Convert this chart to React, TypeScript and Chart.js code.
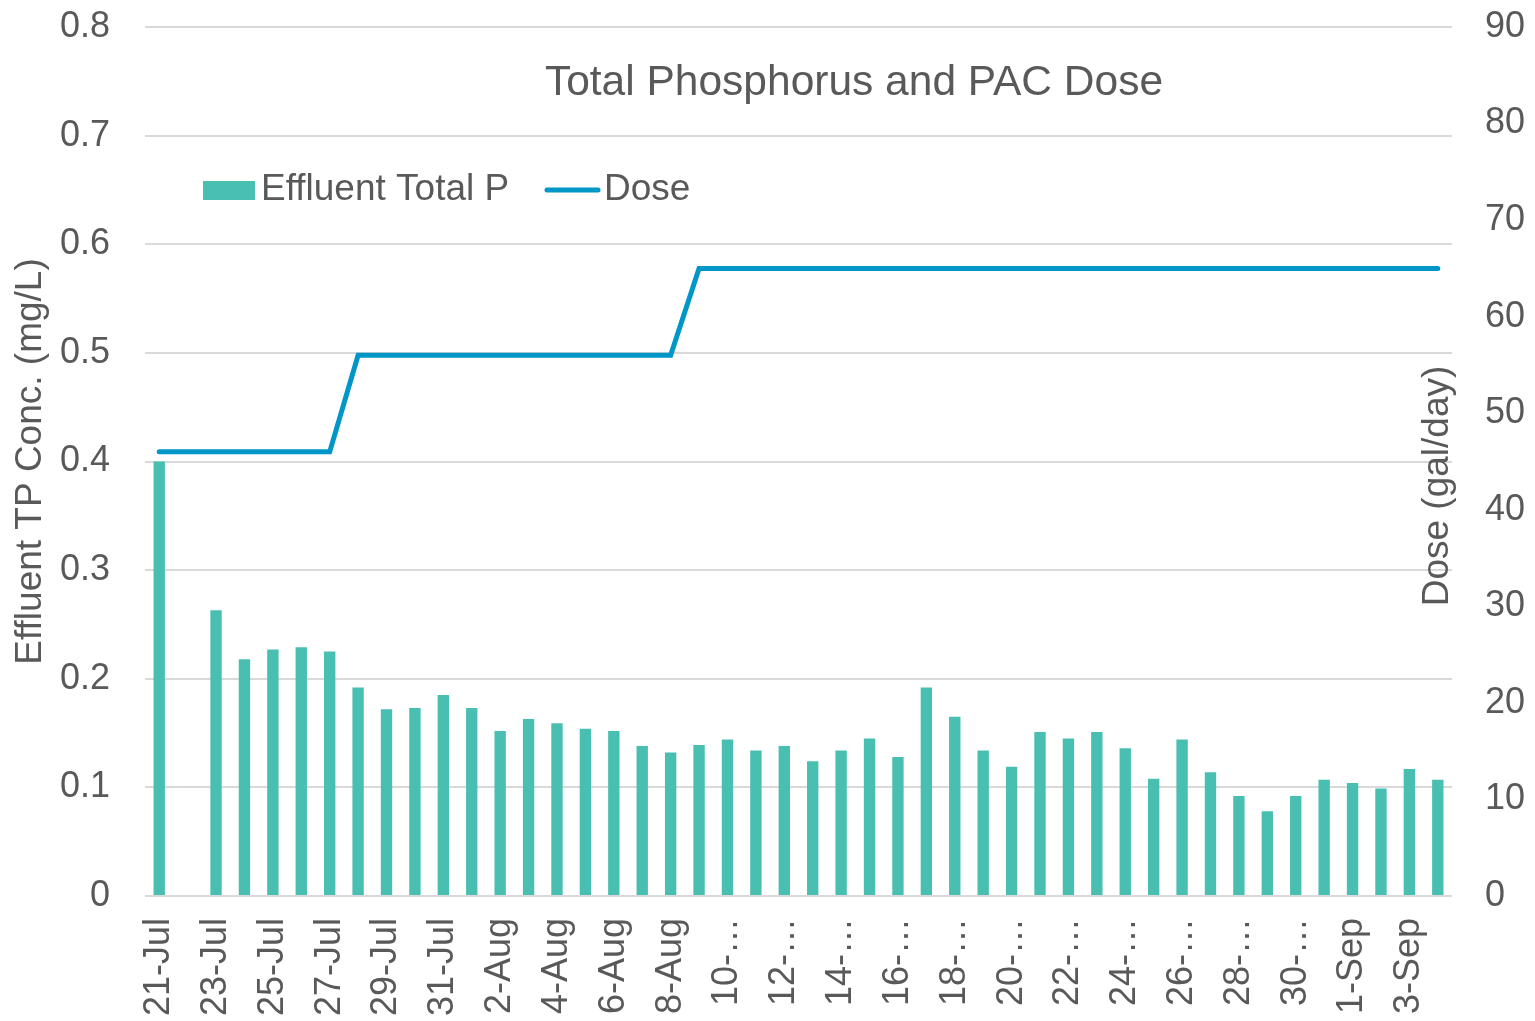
import React, { useEffect, useRef } from "react";
import { Chart, registerables } from "chart.js";

Chart.register(...registerables);

const categories = [
  "21-Jul", "22-Jul", "23-Jul", "24-Jul", "25-Jul", "26-Jul", "27-Jul", "28-Jul", "29-Jul", "30-Jul", "31-Jul",
  "1-Aug", "2-Aug", "3-Aug", "4-Aug", "5-Aug", "6-Aug", "7-Aug", "8-Aug", "9-Aug", "10-Aug",
  "11-Aug", "12-Aug", "13-Aug", "14-Aug", "15-Aug", "16-Aug", "17-Aug", "18-Aug", "19-Aug", "20-Aug",
  "21-Aug", "22-Aug", "23-Aug", "24-Aug", "25-Aug", "26-Aug", "27-Aug", "28-Aug", "29-Aug", "30-Aug", "31-Aug",
  "1-Sep", "2-Sep", "3-Sep", "4-Sep",
];

const xTickLabels = [
  "21-Jul", "", "23-Jul", "", "25-Jul", "", "27-Jul", "", "29-Jul", "", "31-Jul",
  "", "2-Aug", "", "4-Aug", "", "6-Aug", "", "8-Aug", "", "10-…",
  "", "12-…", "", "14-…", "", "16-…", "", "18-…", "", "20-…",
  "", "22-…", "", "24-…", "", "26-…", "", "28-…", "", "30-…", "",
  "1-Sep", "", "3-Sep", "",
];

const effluentTP = [
  0.400, null, 0.263, 0.218, 0.227, 0.229, 0.225, 0.192, 0.172, 0.173, 0.185,
  0.173, 0.152, 0.163, 0.159, 0.154, 0.152, 0.138, 0.132, 0.139, 0.144,
  0.134, 0.138, 0.124, 0.134, 0.145, 0.128, 0.192, 0.165, 0.134, 0.119,
  0.151, 0.145, 0.151, 0.136, 0.108, 0.144, 0.114, 0.092, 0.078, 0.092, 0.107,
  0.104, 0.099, 0.117, 0.107,
];

const dose = [
  46, 46, 46, 46, 46, 46, 46, 56, 56, 56, 56,
  56, 56, 56, 56, 56, 56, 56, 56, 65, 65,
  65, 65, 65, 65, 65, 65, 65, 65, 65, 65,
  65, 65, 65, 65, 65, 65, 65, 65, 65, 65, 65,
  65, 65, 65, 65,
];

const leftTicksMax = 0.8;
const leftTicksStep = 0.1;
const rightTicksMax = 90;
const rightTicksStep = 10;

const titleText = "Total Phosphorus and PAC Dose";
const leftAxisTitle = "Effluent TP Conc. (mg/L)";
const rightAxisTitle = "Dose (gal/day)";
const barLabel = "Effluent Total P";
const lineLabel = "Dose";

const FONT = "'Liberation Sans', Arial, Helvetica, sans-serif";
const TEXT = "#595959";
const GRID = "#D9D9D9";
const BAR = "#49BFB1";
const LINE = "#0096C8";

const overlayPlugin = {
  id: "overlayText",
  afterDraw(chart: any) {
    const { ctx, chartArea } = chart;
    ctx.save();
    // Title
    ctx.fillStyle = TEXT;
    ctx.font = `42.5px ${FONT}`;
    ctx.textAlign = "center";
    ctx.textBaseline = "alphabetic";
    ctx.fillText(titleText, 854, 95);

    // Legend
    ctx.fillStyle = BAR;
    ctx.fillRect(203, 181, 52, 19);
    ctx.fillStyle = TEXT;
    ctx.font = `37px ${FONT}`;
    ctx.textAlign = "left";
    ctx.textBaseline = "middle";
    ctx.fillText(barLabel, 261, 190);

    ctx.strokeStyle = LINE;
    ctx.lineWidth = 5;
    ctx.lineCap = "round";
    ctx.beginPath();
    ctx.moveTo(547, 190);
    ctx.lineTo(598, 190);
    ctx.stroke();
    ctx.fillText(lineLabel, 604, 190);

    // Right axis title (reads bottom to top)
    ctx.translate(chartArea.right - 14, 486);
    ctx.rotate(-Math.PI / 2);
    ctx.textAlign = "center";
    ctx.textBaseline = "middle";
    ctx.fillStyle = TEXT;
    ctx.font = `37px ${FONT}`;
    ctx.fillText(rightAxisTitle, 0, 0);
    ctx.restore();
  },
};

export default function App() {
  const canvasRef = useRef<HTMLCanvasElement | null>(null);

  useEffect(() => {
    document.body.style.margin = "0";
    const canvas = canvasRef.current;
    if (!canvas) return;
    const chart = new Chart(canvas, {
      type: "bar",
      data: {
        labels: categories,
        datasets: [
          {
            type: "line",
            label: lineLabel,
            data: dose,
            yAxisID: "y1",
            borderColor: LINE,
            backgroundColor: LINE,
            borderWidth: 5,
            pointRadius: 0,
            tension: 0,
            borderCapStyle: "round",
            order: 0,
          } as any,
          {
            type: "bar",
            label: barLabel,
            data: effluentTP,
            yAxisID: "y",
            backgroundColor: BAR,
            categoryPercentage: 0.8,
            barPercentage: 0.5,
            order: 1,
          } as any,
        ],
      },
      options: {
        responsive: false,
        animation: false,
        maintainAspectRatio: false,
        layout: { padding: { top: 27, left: 0, right: 0, bottom: 0 } },
        plugins: {
          legend: { display: false },
          title: { display: false },
          tooltip: { enabled: false },
        },
        scales: {
          x: {
            offset: true,
            grid: { display: false, drawTicks: false },
            border: { display: false },
            ticks: {
              autoSkip: false,
              maxRotation: 90,
              minRotation: 90,
              padding: 22,
              color: TEXT,
              font: { family: FONT, size: 36 },
              callback: (_v: any, i: number) => xTickLabels[i],
            },
            afterFit: (scale: any) => {
              scale.height = 125;
              scale.paddingLeft = 0;
              scale.paddingRight = 0;
            },
          },
          y: {
            position: "left",
            min: 0,
            max: leftTicksMax,
            grid: { color: GRID, lineWidth: 2, drawTicks: false },
            border: { display: false },
            ticks: {
              stepSize: leftTicksStep,
              padding: 35,
              color: TEXT,
              font: { family: FONT, size: 36 },
              callback: (v: any) => (Number(v) === 0 ? "0" : Number(v).toFixed(1)),
            },
            title: {
              display: true,
              text: leftAxisTitle,
              color: TEXT,
              font: { family: FONT, size: 37 },
              padding: { top: 9, bottom: 0 },
            },
            afterFit: (scale: any) => {
              scale.width = 145;
              scale.paddingTop = 0;
              scale.paddingBottom = 0;
            },
          },
          y1: {
            position: "right",
            min: 0,
            max: rightTicksMax,
            grid: { display: false, drawTicks: false },
            border: { display: false },
            ticks: {
              stepSize: rightTicksStep,
              padding: 33,
              color: TEXT,
              font: { family: FONT, size: 36 },
            },
            afterFit: (scale: any) => {
              scale.width = 83;
              scale.paddingTop = 0;
              scale.paddingBottom = 0;
            },
          },
        },
      },
      plugins: [overlayPlugin],
    });
    return () => chart.destroy();
  }, []);

  return (
    <div style={{ position: "relative", width: 1535, height: 1021, background: "#fff" }}>
      <canvas ref={canvasRef} width={1535} height={1021} style={{ display: "block", width: 1535, height: 1021 }} />
    </div>
  );
}
